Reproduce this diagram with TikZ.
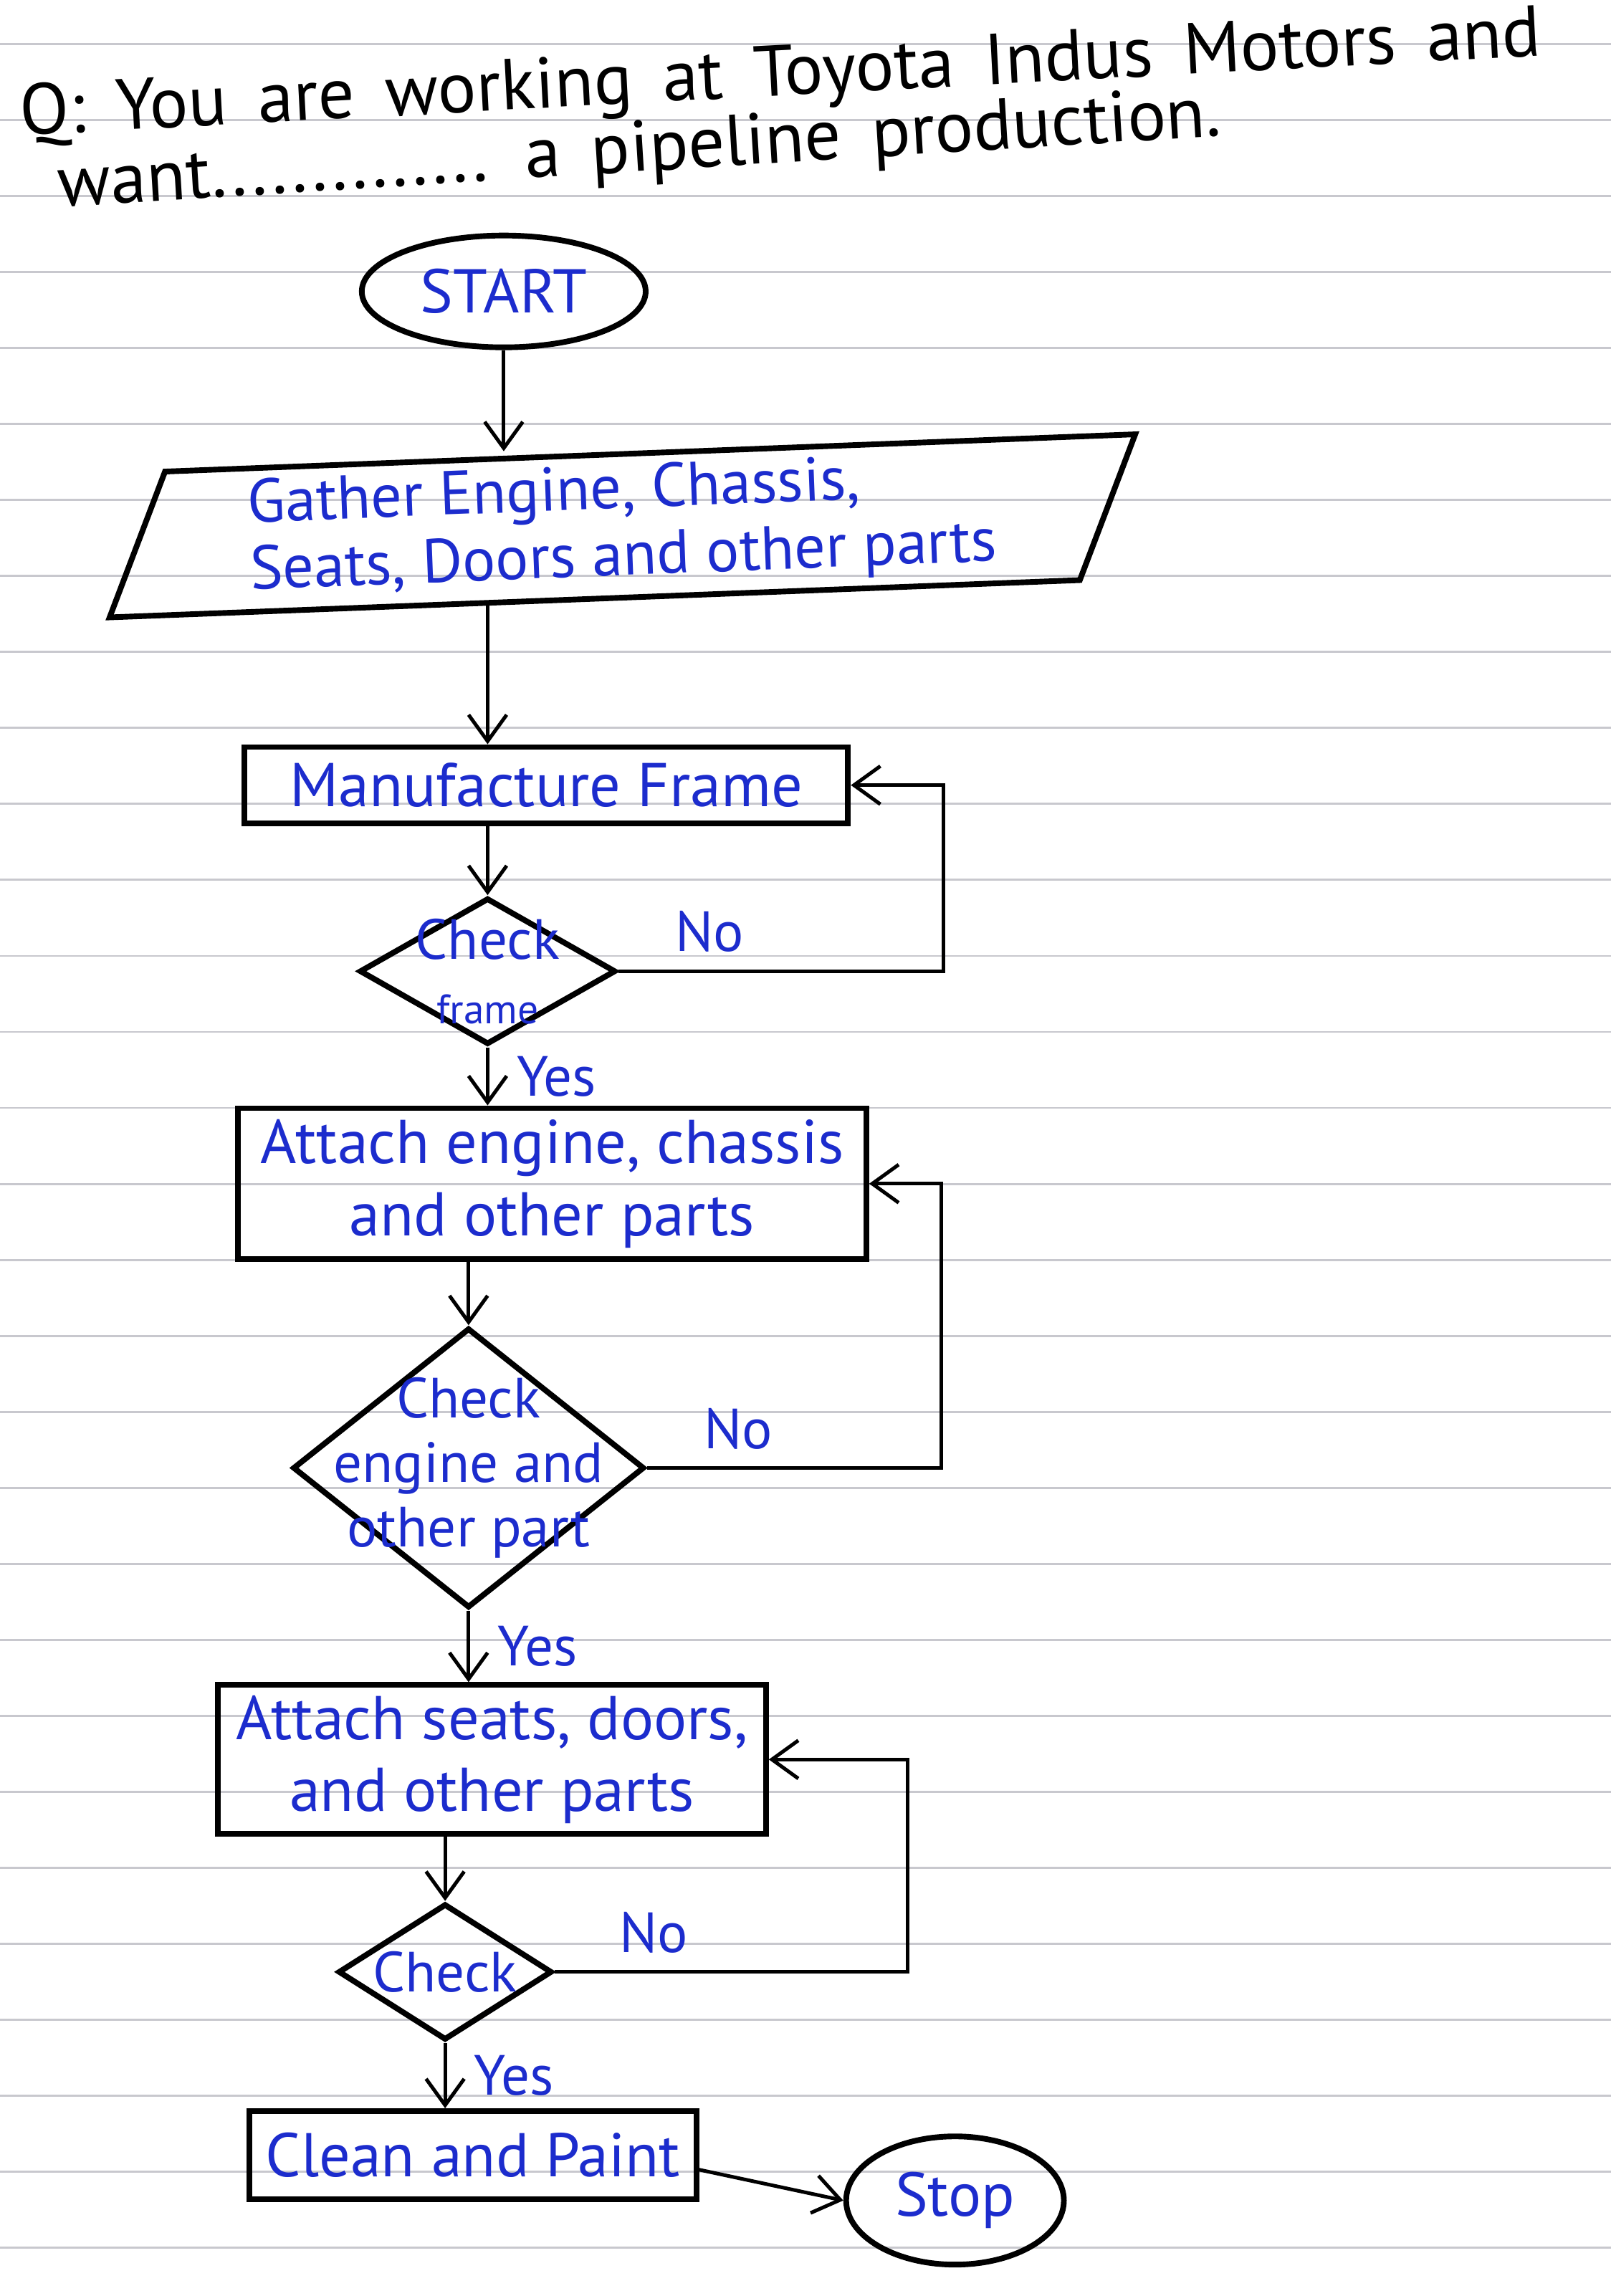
\documentclass[tikz,border=0pt]{standalone}
\usepackage{fontspec}
\setmainfont{PT Sans}
\newfontfamily\questionfont[WordSpace=1.6]{PT Sans}
\usetikzlibrary{shapes.geometric, arrows.meta}
\definecolor{inkblue}{RGB}{28,44,205}
\definecolor{ruleline}{RGB}{200,200,206}
\tikzset{
	flowchartnode/.style = {align=center, draw=black, line width=1.1pt, text=inkblue, font=\fontsize{12}{14}\selectfont},
	terminal/.style = {ellipse, flowchartnode},
	process/.style = {rectangle, flowchartnode, inner sep=2pt},
	decision/.style = {diamond, flowchartnode, inner sep=-0.3cm, font=\fontsize{11}{12.5}\selectfont},
	io/.style = {trapezium, trapezium left angle=67, trapezium right angle=113, flowchartnode, inner ysep=0pt, font=\fontsize{12}{13}\selectfont},
	line/.style = {draw, line width=0.7pt, -{Straight Barb[length=1.8mm, width=2.6mm]}},
	answer/.style = {text=inkblue, font=\fontsize{11}{12}\selectfont},
	question/.style = {anchor=base west, font=\questionfont\fontsize{14}{17}\selectfont},
	ruling/.style = {draw=ruleline, line width=0.4pt}
}
\begin{document}
\begin{tikzpicture}[x=0.01cm, y=-0.01cm, node distance=1.5cm]
	\useasboundingbox (0,0) rectangle (1100,1568);
	%notebook lines
	\foreach \k in {0,...,29}
		\draw [ruling] (0,{30+51.9*\k}) -- (1100,{30+51.9*\k});

	%question
	\node (title1) [question, rotate=3.0] at (2,93) {Q: You are working at Toyota Indus Motors and};
	\node (title2) [question, rotate=3.5] at (28,142) {want.............. a pipeline production.};

	%shapes
	\node (start) [terminal, minimum width=1.92cm, minimum height=0.72cm] at (344,199) {START};
	\node (gather) [io, below of=start, node distance=1.6cm, xshift=0.81cm, rotate=2.2, minimum width=6.8cm, minimum height=0.98cm, align=left] {Gather Engine, Chassis,\\Seats, Doors and other parts};
	\node (frame) [process, below of=gather, node distance=1.77cm, xshift=-0.52cm, minimum width=4.12cm, minimum height=0.52cm] {Manufacture Frame};
	\node (check1) [decision, below of=frame, node distance=1.27cm, xshift=-0.4cm, minimum width=1.75cm, minimum height=1cm] {Check\\{\footnotesize frame}};
	\node (attach1) [process, below of=check1, node distance=1.45cm, xshift=0.44cm, minimum width=4.29cm, minimum height=1.03cm] {Attach engine, chassis\\and other parts};
	\node (check2) [decision, below of=attach1, node distance=1.94cm, xshift=-0.57cm, minimum width=2.4cm, minimum height=1.91cm] {Check\\engine and\\other part};
	\node (attach2) [process, below of=check2, node distance=1.99cm, xshift=0.16cm, minimum width=3.74cm, minimum height=0.97cm] {Attach seats, doors,\\and other parts};
	\node (check3) [decision, below of=attach2, node distance=1.45cm, xshift=-0.32cm, minimum width=1.46cm, minimum height=0.93cm] {Check};
	\node (paint) [process, below of=check3, node distance=1.25cm, xshift=0.19cm, minimum width=3.05cm, minimum height=0.6cm] {Clean and Paint};
	\node (stop) [terminal, right of=paint, node distance=3.29cm, yshift=-0.31cm, minimum width=1.46cm, minimum height=0.78cm] {Stop};

	%connectors
	\path [line] (start.south) -- (start.south |- gather.north);
	\path [line] (gather.south -| check1.north) -- (check1.north |- frame.north);
	\path [line] (frame.south -| check1.north) -- (check1.north);
	\path [line] (check1.south) -- node[answer, anchor=west, xshift=2pt] {Yes} (check1.south |- attach1.north);
	\path [line] (check1.east) -- node[answer, pos=0.28, anchor=south] {No} ++(222,0) |- (frame.east);
	\path [line] (attach1.south -| check2.north) -- (check2.north);
	\path [line] (check2.south) -- node[answer, anchor=west, xshift=2pt] {Yes} (check2.south |- attach2.north);
	\path [line] (check2.east) -- node[answer, pos=0.31, anchor=south] {No} ++(201,0) |- (attach1.east);
	\path [line] (attach2.south -| check3.north) -- (check3.north);
	\path [line] (check3.south) -- node[answer, anchor=west, xshift=2pt] {Yes} (check3.south |- paint.north);
	\path [line] (check3.east) -- node[answer, pos=0.28, anchor=south] {No} ++(241,0) |- (attach2.east);
	\path [line] ([yshift=-0.1cm]paint.east) -- (stop.west);
\end{tikzpicture}
\end{document}
